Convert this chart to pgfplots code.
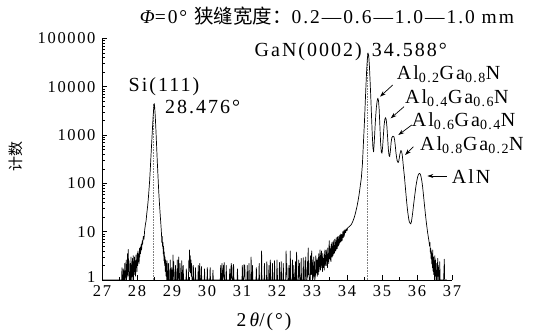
\documentclass[border=0pt]{standalone}
\usepackage{pgfplots}
\pgfplotsset{compat=1.18}
\usepackage{pgfplotstable}
\usetikzlibrary{arrows.meta}
\usepackage{fontspec}
\setmainfont{Liberation Serif}[LetterSpace=10]
\newfontfamily\cjk{Noto Sans CJK SC}
\newcommand{\fs}{\fontsize{16.5bp}{19bp}\selectfont}
\newcommand{\fa}{\fontsize{20bp}{23bp}\selectfont}
\newcommand{\ft}{\fontsize{19.5bp}{23bp}\selectfont}
\pgfplotstableread{
x y
27.00 1
27.56 1
27.57 1.8
27.58 1
27.60 1
27.61 1.7
27.62 1
27.64 1
27.65 2.2
27.66 1
27.68 1.3
27.69 2.6
27.70 1
27.72 1.5
27.73 3.5
27.74 1.2
27.75 4.3
27.76 1.5
27.77 2.5
27.78 1
27.80 1
27.81 2.2
27.82 1
27.83 3.0
27.84 1.4
27.86 1
27.87 2.8
27.88 1.2
27.89 3.2
27.90 1
27.91 2.4
27.92 1.3
27.93 3.0
27.94 1.5
27.95 2.5
27.96 1.2
27.97 3.3
27.98 1.8
27.99 2.6
28.00 1.5
28.01 3.6
28.02 2.0
28.03 4.0
28.04 2.4
28.05 3.2
28.06 2.2
28.07 4.5
28.08 3.0
28.09 4.8
28.10 3.5
28.12 5.5
28.13 4.2
28.15 6.5
28.16 5.5
28.18 8
28.20 7
28.22 11
28.24 14
28.26 17
28.28 24
28.30 32
28.32 45
28.34 70
28.36 110
28.38 200
28.40 380
28.42 700
28.44 1300
28.46 2400
28.48 3800
28.49 4500
28.50 4200
28.52 2600
28.54 1300
28.56 600
28.58 280
28.60 140
28.62 70
28.64 40
28.66 24
28.68 15
28.70 9
28.71 6
28.72 8
28.73 5
28.74 6
28.75 3.5
28.76 5
28.77 2.5
28.78 3.8
28.79 2
28.80 3
28.81 1.5
28.82 2.6
28.83 1.2
28.84 2.2
28.85 1
28.86 2.5
28.87 1
28.89 1
28.90 2.2
28.91 1
28.94 1
28.95 2.6
28.96 1
28.98 1
28.99 1.8
29.00 1
29.02 1
29.03 3.3
29.04 1.2
29.05 2.4
29.06 1
29.09 1
29.10 2.0
29.11 1
29.14 1
29.15 2.6
29.16 1
29.18 1.2
29.19 3.0
29.20 1
29.22 1
29.23 2.2
29.24 1
29.27 1
29.28 2.5
29.29 1
29.31 1
29.32 2.0
29.33 1
29.40 1
29.41 1.7
29.42 1
29.47 1
29.48 2.5
29.49 1.5
29.50 4.2
29.51 1.8
29.52 3.2
29.53 1.4
29.54 2.6
29.55 1.2
29.56 2.2
29.57 1
29.60 1
29.61 2.0
29.62 1
29.66 1
29.67 1.8
29.68 1
29.74 1
29.75 2.0
29.76 1
29.78 1
29.79 2.2
29.80 1
29.83 1
29.84 1.9
29.85 1
29.92 1
29.93 1.7
29.94 1
30.00 1
30.01 1.8
30.02 1
30.08 1
30.09 1.8
30.10 1
30.16 1
30.17 1.6
30.18 1
30.38 1
30.39 2.0
30.40 1
30.42 1
30.43 2.2
30.44 1
30.46 1
30.47 2.0
30.48 1.2
30.49 2.3
30.50 1
30.54 1
30.55 2.0
30.56 1
30.64 1
30.65 1.7
30.66 1
30.68 1
30.69 2.2
30.70 1.1
30.71 2.0
30.72 1
30.75 1
30.76 2.1
30.77 1
30.86 1
30.87 1.7
30.88 1
31.00 1
31.01 2.0
31.02 1
31.05 1
31.06 2.1
31.07 1.2
31.08 2.0
31.09 1
31.14 1
31.15 2.0
31.16 1
31.19 1
31.20 2.2
31.21 1
31.25 1
31.26 3.0
31.27 1
31.29 1
31.30 2.0
31.31 1
31.40 1
31.41 1.8
31.42 1
31.48 1
31.49 2.2
31.50 1
31.55 1
31.56 4.0
31.57 1
31.63 1
31.64 2.2
31.65 1
31.70 1
31.71 2.4
31.72 1
31.76 1
31.77 2.0
31.78 1
31.80 1
31.81 2.6
31.82 1
31.86 1
31.87 2.2
31.88 1
31.92 1
31.93 2.5
31.94 1
31.99 1
32.00 2.6
32.01 1
32.06 1
32.07 2.3
32.08 1
32.11 1
32.12 2.4
32.13 1
32.17 1
32.18 2.2
32.19 1
32.25 1
32.26 4.0
32.27 1.3
32.28 2.2
32.29 1
32.33 1
32.34 2.0
32.35 1
32.37 1
32.38 4.0
32.39 1
32.43 1
32.44 2.6
32.45 1
32.47 1
32.48 2.0
32.49 1
32.52 1
32.53 2.4
32.54 1
32.55 1
32.56 3.8
32.57 1
32.61 1
32.62 2.6
32.63 1.2
32.64 2.2
32.65 1
32.68 1
32.69 2.8
32.70 1
32.74 1
32.75 2.9
32.76 1
32.79 1
32.80 2.5
32.81 1.2
32.82 3.0
32.83 1
32.86 1
32.87 2.4
32.88 1.2
32.89 4.6
32.90 1.3
32.91 2.5
32.92 1
32.95 1
32.96 3.2
32.97 1.3
32.98 2.2
32.99 4.0
33.00 1.3
33.01 2.6
33.02 1
33.04 1.2
33.05 3.0
33.06 1.2
33.07 2.4
33.08 1
33.10 1.3
33.11 3.2
33.12 1.4
33.14 2.6
33.15 1.2
33.17 2.8
33.18 1.3
33.19 3.5
33.20 1.5
33.22 2.5
33.23 4.2
33.24 1.6
33.26 3.0
33.27 4.0
33.28 1.8
33.29 3.0
33.30 1.5
33.31 3.6
33.32 1.8
33.34 2.8
33.35 1.6
33.36 3.5
33.37 4.2
33.38 2.0
33.40 3.0
33.41 4.2
33.42 2.0
33.43 3.4
33.44 1.8
33.45 4.6
33.46 2.4
33.47 3.6
33.48 2.2
33.49 6.5
33.50 2.8
33.51 5.0
33.52 2.6
33.53 4.4
33.54 2.4
33.55 5.5
33.56 3.0
33.57 6.0
33.58 3.0
33.59 5.0
33.60 3.2
33.61 6.5
33.62 3.5
33.63 5.2
33.64 3.6
33.65 7.0
33.66 4.0
33.67 6.0
33.68 4.0
33.69 7.5
33.70 4.4
33.71 6.5
33.72 4.5
33.73 7.8
33.74 5.0
33.75 8.0
33.76 5.2
33.77 7.0
33.78 5.5
33.79 8.5
33.80 6.0
33.82 9.0
33.83 6.2
33.85 8.8
33.86 6.5
33.88 10
33.89 7.5
33.91 10.5
33.92 8.0
33.94 11
33.96 9.5
33.98 11.5
34.00 10.5
34.02 12
34.05 12.5
34.08 13
34.12 14
34.16 16
34.20 19
34.24 24
34.28 32
34.32 45
34.35 62
34.38 90
34.41 130
34.44 250
34.46 500
34.48 1000
34.50 2000
34.52 4500
34.54 10000
34.56 21000
34.58 37000
34.60 50000
34.62 44000
34.64 27000
34.66 13000
34.68 6000
34.70 2500
34.72 1100
34.74 550
34.76 450
34.78 750
34.80 1400
34.82 2500
34.84 3800
34.86 5000
34.88 5800
34.90 5200
34.92 3300
34.94 1500
34.96 700
34.98 450
35.00 420
35.02 600
35.04 1000
35.06 1600
35.08 2100
35.10 2300
35.12 2100
35.14 1500
35.16 900
35.18 520
35.20 380
35.22 360
35.24 480
35.26 700
35.28 880
35.31 950
35.34 930
35.36 800
35.38 600
35.40 420
35.43 300
35.46 270
35.48 290
35.51 400
35.54 480
35.56 460
35.58 380
35.60 270
35.62 190
35.64 140
35.66 95
35.68 65
35.70 45
35.72 32
35.74 24
35.76 19
35.78 16
35.80 15
35.82 14.5
35.84 16
35.86 20
35.88 26
35.90 35
35.92 46
35.94 60
35.96 78
35.98 98
36.00 118
36.02 138
36.04 152
36.06 160
36.08 160
36.10 152
36.12 132
36.14 110
36.16 85
36.18 62
36.20 44
36.22 32
36.24 23
36.26 17
36.28 13
36.30 10
36.32 8
36.34 6.5
36.36 5
36.37 6
36.38 3.8
36.39 4.5
36.40 2.8
36.41 4.0
36.42 2.2
36.43 3.5
36.44 1.8
36.45 4.2
36.46 1.5
36.47 3.0
36.48 1.3
36.49 2.5
36.50 1
36.51 3.2
36.52 1.2
36.53 2.6
36.54 1
36.55 2.2
36.56 1
36.58 1
36.59 2.8
36.60 1.2
36.61 2.0
36.62 1
36.64 1
36.65 2.4
36.66 1
36.76 1
36.77 1.6
36.78 2.7
36.79 1
36.85 1
}\xrd
\begin{document}
\begin{tikzpicture}[x=1bp,y=1bp]
\useasboundingbox (0,0) rectangle (536,333);
\begin{axis}[
  at={(102bp,53bp)}, anchor=south west,
  scale only axis, width=350bp, height=241.5bp,
  xmin=27, xmax=37, ymin=1, ymax=100000, ymode=log,
  axis x line*=bottom, axis y line*=left,
  axis line style={line width=0.8bp},
  xtick={27,28,...,37}, minor x tick num=1,
  ytick={1,10,100,1000,10000,100000},
  yticklabels={\raisebox{5bp}{1},10,100,1000,10000,100000},
  tick align=inside, major tick length=5bp, minor tick length=3bp,
  tick style={black, line width=0.6bp},
  /pgf/number format/assume math mode=true,
  tick label style={font=\fs},
  xticklabel style={yshift=-2bp},
  yticklabel style={xshift=-3bp},
]
\addplot[gray, densely dotted, line width=0.6bp] coordinates {(28.476,1) (28.476,4500)};
\addplot[gray, densely dotted, line width=0.6bp] coordinates {(34.588,1) (34.588,50000)};
\addplot[black, line width=0.7bp, line join=round] table[x=x,y=y] {\xrd};
\end{axis}
% titles and labels
\node[font=\ft] at (327,317) {{\itshape Φ}=0° {\cjk 狭缝宽度：}0.2—0.6—1.0—1.0 mm};
\node[font=\ft] at (264,11) {2\,{\itshape θ}/(°)};
\node[font=\fontsize{15bp}{18bp}\selectfont\cjk, rotate=90] at (16,177) {计数};
% annotations
\node[font=\fa, anchor=base west, inner sep=0pt] at (128.5,241.3) {Si(111)};
\node[font=\fa, anchor=base west, inner sep=0pt] at (165,219.7) {28.476°};
\node[font=\fa, anchor=base east, inner sep=0pt] at (362,276.3) {GaN(0002)};
\node[font=\fa, anchor=base west, inner sep=0pt] at (371.7,276.3) {34.588°};
\node[font=\fa, anchor=base west, inner sep=0pt] at (396.7,253.7) {Al\textsubscript{0.2}Ga\textsubscript{0.8}N};
\node[font=\fa, anchor=base west, inner sep=0pt] at (405,230) {Al\textsubscript{0.4}Ga\textsubscript{0.6}N};
\node[font=\fa, anchor=base west, inner sep=0pt] at (411.7,207) {Al\textsubscript{0.6}Ga\textsubscript{0.4}N};
\node[font=\fa, anchor=base west, inner sep=0pt] at (420,183) {Al\textsubscript{0.8}Ga\textsubscript{0.2}N};
\node[font=\fa, anchor=base west, inner sep=0pt] at (451.7,149.7) {AlN};
\begin{scope}[line width=0.7bp, -{Stealth[length=6bp,width=4bp]}]
\draw (392.7,248) -- (380,236.3);
\draw (404,226.3) -- (390.7,214.7);
\draw (411.7,208) -- (398.3,198);
\draw (413.3,186.3) -- (405,178);
\draw (446.7,157) -- (427.3,157);
\end{scope}
\end{tikzpicture}
\end{document}
